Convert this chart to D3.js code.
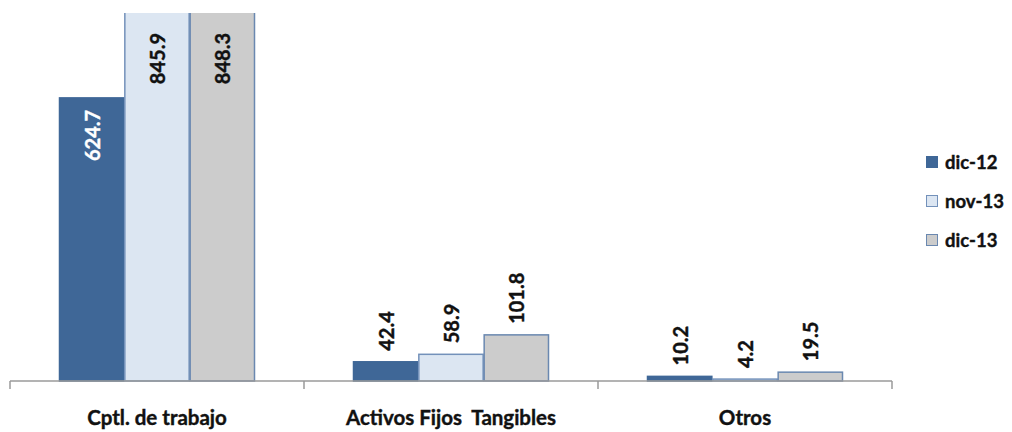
<!DOCTYPE html>
<html>
<head>
<meta charset="utf-8">
<script src="https://cdn.jsdelivr.net/npm/d3@7"></script>
<style>
  html, body { margin: 0; padding: 0; background: #ffffff; }
  svg { display: block; font-family: Lato, "Open Sans", sans-serif; }
  .lbl { paint-order: stroke; stroke-width: 0.4px; }
</style>
</head>
<body>
<svg id="chart" width="1012" height="432"></svg>
<script>
// Categories and series
const categories = ["Cptl. de trabajo", "Activos Fijos  Tangibles", "Otros"];
const seriesNames = ["dic-12", "nov-13", "dic-13"];
const dic12 = [624.7, 42.4, 10.2];
const nov13 = [845.9, 58.9, 4.2];
const dic13 = [848.3, 101.8, 19.5];
const seriesValues = [dic12, nov13, dic13];

const fills = ["#3f6797", "#dce6f2", "#cccccc"];
const strokes = ["#3f6797", "#7391ba", "#6a88b0"];
const insideText = ["#ffffff", "#111111", "#111111"];

const svg = d3.select("#chart");
const plot = { left: 10, right: 892, top: 13, bottom: 381 };

const x0 = d3.scaleBand()
  .domain(categories)
  .range([plot.left, plot.right])
  .paddingInner(1 / 3)
  .paddingOuter(1 / 6);

const x1 = d3.scaleBand()
  .domain(seriesNames)
  .range([0, x0.bandwidth()]);

const y = d3.scaleLinear()
  .domain([0, 812])
  .range([plot.bottom, plot.top]);

svg.append("defs").append("clipPath").attr("id", "plotClip")
  .append("rect")
  .attr("x", plot.left).attr("y", plot.top)
  .attr("width", plot.right - plot.left)
  .attr("height", plot.bottom - plot.top + 2);

const rows = [];
categories.forEach((c, ci) => {
  seriesNames.forEach((s, si) => {
    rows.push({ cat: c, series: s, si, value: seriesValues[si][ci] });
  });
});

// Bars
svg.append("g").attr("clip-path", "url(#plotClip)")
  .selectAll("rect")
  .data(rows)
  .join("rect")
  .attr("x", d => x0(d.cat) + x1(d.series) + 0.5)
  .attr("y", d => y(d.value))
  .attr("width", x1.bandwidth() - 1)
  .attr("height", d => y(0) - y(d.value))
  .attr("fill", d => fills[d.si])
  .attr("stroke", d => strokes[d.si])
  .attr("stroke-width", 1.5);

// Category axis
const stepStart = plot.left;
const step = x0.step();
const axis = svg.append("g");
axis.append("line")
  .attr("x1", plot.left).attr("x2", plot.right)
  .attr("y1", plot.bottom).attr("y2", plot.bottom)
  .attr("stroke", "#9a9a9a").attr("stroke-width", 1.5);
axis.selectAll("line.tick")
  .data(d3.range(categories.length + 1))
  .join("line")
  .attr("class", "tick")
  .attr("x1", i => stepStart + i * step).attr("x2", i => stepStart + i * step)
  .attr("y1", plot.bottom).attr("y2", plot.bottom + 8)
  .attr("stroke", "#9a9a9a").attr("stroke-width", 1.5);
axis.selectAll("text")
  .data(categories)
  .join("text")
  .attr("class", "lbl")
  .attr("x", d => x0(d) + x0.bandwidth() / 2)
  .attr("y", 425)
  .attr("text-anchor", "middle")
  .attr("font-size", 20.5)
  .attr("font-weight", 700)
  .attr("fill", "#111")
  .attr("stroke", "#111")
  .style("white-space", "pre")
  .text(d => d);

// Value labels (rotated)
svg.append("g")
  .selectAll("text")
  .data(rows)
  .join("text")
  .attr("class", "lbl")
  .each(function (d) {
    const cx = x0(d.cat) + x1(d.series) + x1.bandwidth() / 2;
    const top = y(d.value);
    const inside = d.value > 500;
    const yy = inside ? Math.max(top, plot.top + 8) + 12 : top - 11;
    const col = inside ? insideText[d.si] : "#111111";
    d3.select(this)
      .attr("transform", `translate(${cx},${yy}) rotate(-90)`)
      .attr("text-anchor", inside ? "end" : "start")
      .attr("dominant-baseline", "central")
      .attr("fill", col)
      .attr("stroke", col);
  })
  .attr("font-size", 20)
  .attr("font-weight", 700)
  .text(d => d.value.toFixed(1));

// Legend
const legend = svg.append("g").attr("transform", "translate(926,156)");
const item = legend.selectAll("g")
  .data(seriesNames)
  .join("g")
  .attr("transform", (d, i) => `translate(0,${i * 39})`);
item.append("rect")
  .attr("x", 0.5).attr("y", 0.5)
  .attr("width", 11).attr("height", 11)
  .attr("fill", (d, i) => fills[i])
  .attr("stroke", (d, i) => strokes[i])
  .attr("stroke-width", 1);
item.append("text")
  .attr("class", "lbl")
  .attr("x", 19).attr("y", 12.5)
  .attr("font-size", 18.5)
  .attr("font-weight", 700)
  .attr("fill", "#111")
  .attr("stroke", "#111")
  .text(d => d);
</script>
</body>
</html>
